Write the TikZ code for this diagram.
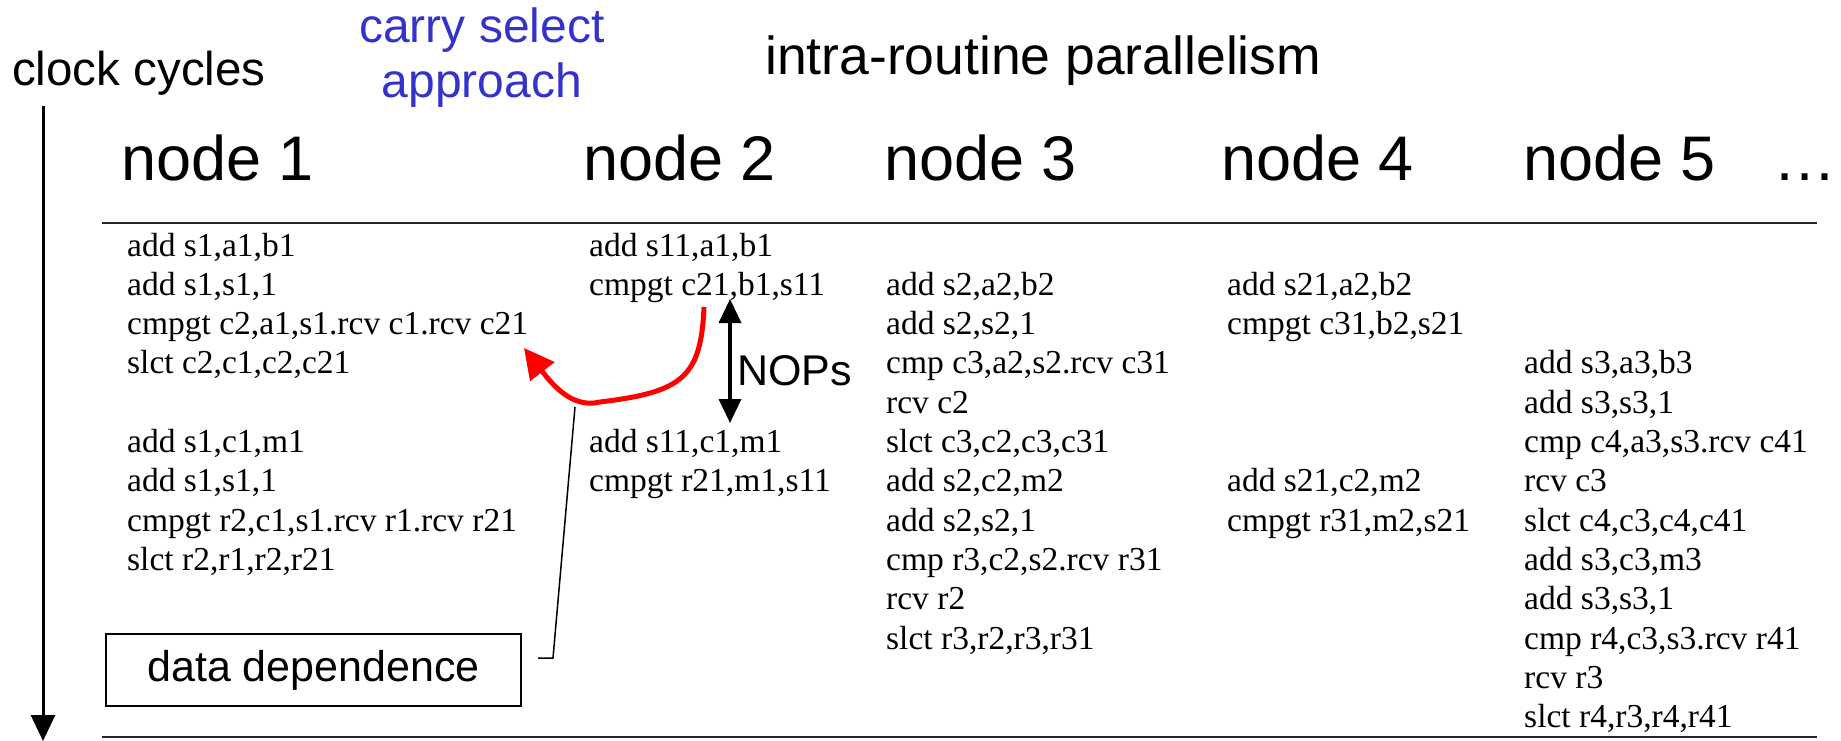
\documentclass[tikz,border=0pt]{standalone}
\usepackage{fontspec}
\setmainfont{Liberation Serif}
\newfontfamily\labfont{Liberation Sans}
\usetikzlibrary{arrows.meta}
\definecolor{selblue}{RGB}{51,51,204}
\definecolor{depred}{RGB}{255,0,0}

\begin{document}
\begin{tikzpicture}[x=1pt,y=-1pt,
  code/.style={anchor=base west, inner sep=0pt, font=\fontsize{33.5}{40}\selectfont},
  colhead/.style={anchor=base west, inner sep=0pt, font=\labfont\fontsize{63}{72}\selectfont},
  lab/.style={inner sep=0pt, font=\labfont\fontsize{48}{56}\selectfont},
  rulebar/.style={line width=2.5pt, black!85},
  timearrow/.style={line width=3pt, -{Triangle[length=26pt,width=24pt]}},
  nopsarrow/.style={line width=3.5pt, {Triangle[length=24pt,width=22pt]}-{Triangle[length=24pt,width=22pt]}},
  deparrow/.style={line width=5pt, depred, -{Triangle[length=30pt,width=30pt]}},
  leader/.style={line width=1.5pt},
  notebox/.style={draw, line width=1.5pt, minimum width=415pt, minimum height=72pt,
                  inner sep=0pt, font=\labfont\fontsize{43}{50}\selectfont}]

\useasboundingbox (0,0) rectangle (1841,741);

% titles
\node[lab, anchor=base west, font=\labfont\fontsize{47.5}{56}\selectfont] (clk) at (12,86) {clock cycles};
\node[lab, anchor=base, text=selblue] (csel1) at (482,43) {carry select};
\node[lab, anchor=base, text=selblue] (csel2) at (482,98) {approach};
\node[lab, anchor=base west, font=\labfont\fontsize{53.5}{60}\selectfont] (intra) at (765,75) {intra-routine parallelism};

% column headings
\node[colhead] (h1) at (121,180) {node 1};
\node[colhead] (h2) at (583,180) {node 2};
\node[colhead] (h3) at (884,180) {node 3};
\node[colhead] (h4) at (1221,180) {node 4};
\node[colhead] (h5) at (1523,180) {node 5};
\node[colhead] (hdots) at (1773,180) {…};

% table rules
\draw[rulebar] (102,223) -- (1817,223);
\draw[rulebar] (102,737) -- (1817,737);

% time axis
\coordinate (clkT) at (43,106);
\coordinate (clkB) at (43,741);
\draw[timearrow] (clkT) -- (clkB);

% node 1 code
\node[code] (a1) at (127,256.0) {add s1,a1,b1};
\node[code] (a2) at (127,295.3) {add s1,s1,1};
\node[code] (a3) at (127,334.6) {cmpgt c2,a1,s1.rcv c1.rcv c21};
\node[code] (a4) at (127,373.9) {slct c2,c1,c2,c21};
\node[code] (a5) at (127,452.5) {add s1,c1,m1};
\node[code] (a6) at (127,491.8) {add s1,s1,1};
\node[code] (a7) at (127,531.1) {cmpgt r2,c1,s1.rcv r1.rcv r21};
\node[code] (a8) at (127,570.4) {slct r2,r1,r2,r21};

% node 2 code
\node[code] (b1) at (589,256.0) {add s11,a1,b1};
\node[code] (b2) at (589,295.3) {cmpgt c21,b1,s11};
\node[code] (b3) at (589,452.5) {add s11,c1,m1};
\node[code] (b4) at (589,491.8) {cmpgt r21,m1,s11};

% node 3 code
\node[code] (c1) at (886,295.3) {add s2,a2,b2};
\node[code] (c2) at (886,334.6) {add s2,s2,1};
\node[code] (c3) at (886,373.9) {cmp c3,a2,s2.rcv c31};
\node[code] (c4) at (886,413.2) {rcv c2};
\node[code] (c5) at (886,452.5) {slct c3,c2,c3,c31};
\node[code] (c6) at (886,491.8) {add s2,c2,m2};
\node[code] (c7) at (886,531.1) {add s2,s2,1};
\node[code] (c8) at (886,570.4) {cmp r3,c2,s2.rcv r31};
\node[code] (c9) at (886,609.7) {rcv r2};
\node[code] (c10) at (886,649.0) {slct r3,r2,r3,r31};

% node 4 code
\node[code] (d1) at (1227,295.3) {add s21,a2,b2};
\node[code] (d2) at (1227,334.6) {cmpgt c31,b2,s21};
\node[code] (d3) at (1227,491.8) {add s21,c2,m2};
\node[code] (d4) at (1227,531.1) {cmpgt r31,m2,s21};

% node 5 code
\node[code] (e1) at (1524,373.9) {add s3,a3,b3};
\node[code] (e2) at (1524,413.2) {add s3,s3,1};
\node[code] (e3) at (1524,452.5) {cmp c4,a3,s3.rcv c41};
\node[code] (e4) at (1524,491.8) {rcv c3};
\node[code] (e5) at (1524,531.1) {slct c4,c3,c4,c41};
\node[code] (e6) at (1524,570.4) {add s3,c3,m3};
\node[code] (e7) at (1524,609.7) {add s3,s3,1};
\node[code] (e8) at (1524,649.0) {cmp r4,c3,s3.rcv r41};
\node[code] (e9) at (1524,688.3) {rcv r3};
\node[code] (e10) at (1524,727.6) {slct r4,r3,r4,r41};

% idle slots on node 2
\coordinate (nopT) at (730,299);
\coordinate (nopB) at (730,423);
\draw[nopsarrow] (nopT) -- (nopB);
\node[lab, anchor=base west, font=\labfont\fontsize{43}{50}\selectfont] (nops) at (737,385) {NOPs};

% carry passed from node 2 back to node 1
\coordinate (carrySrc) at (704,307);
\coordinate (carryDst) at (524,348);
\draw[deparrow] (carrySrc) .. controls (701,378) and (682,392) .. (600,402)
                            .. controls (572,409) and (552,384) .. (carryDst);

% callout
\node[notebox] (dd) at (313.5,670) {data dependence};
\coordinate (ddStub) at (538,658);
\coordinate (ddTip) at (575,407);
\draw[leader] (ddStub) -- ++(15,0) -- (ddTip);

\end{tikzpicture}
\end{document}
